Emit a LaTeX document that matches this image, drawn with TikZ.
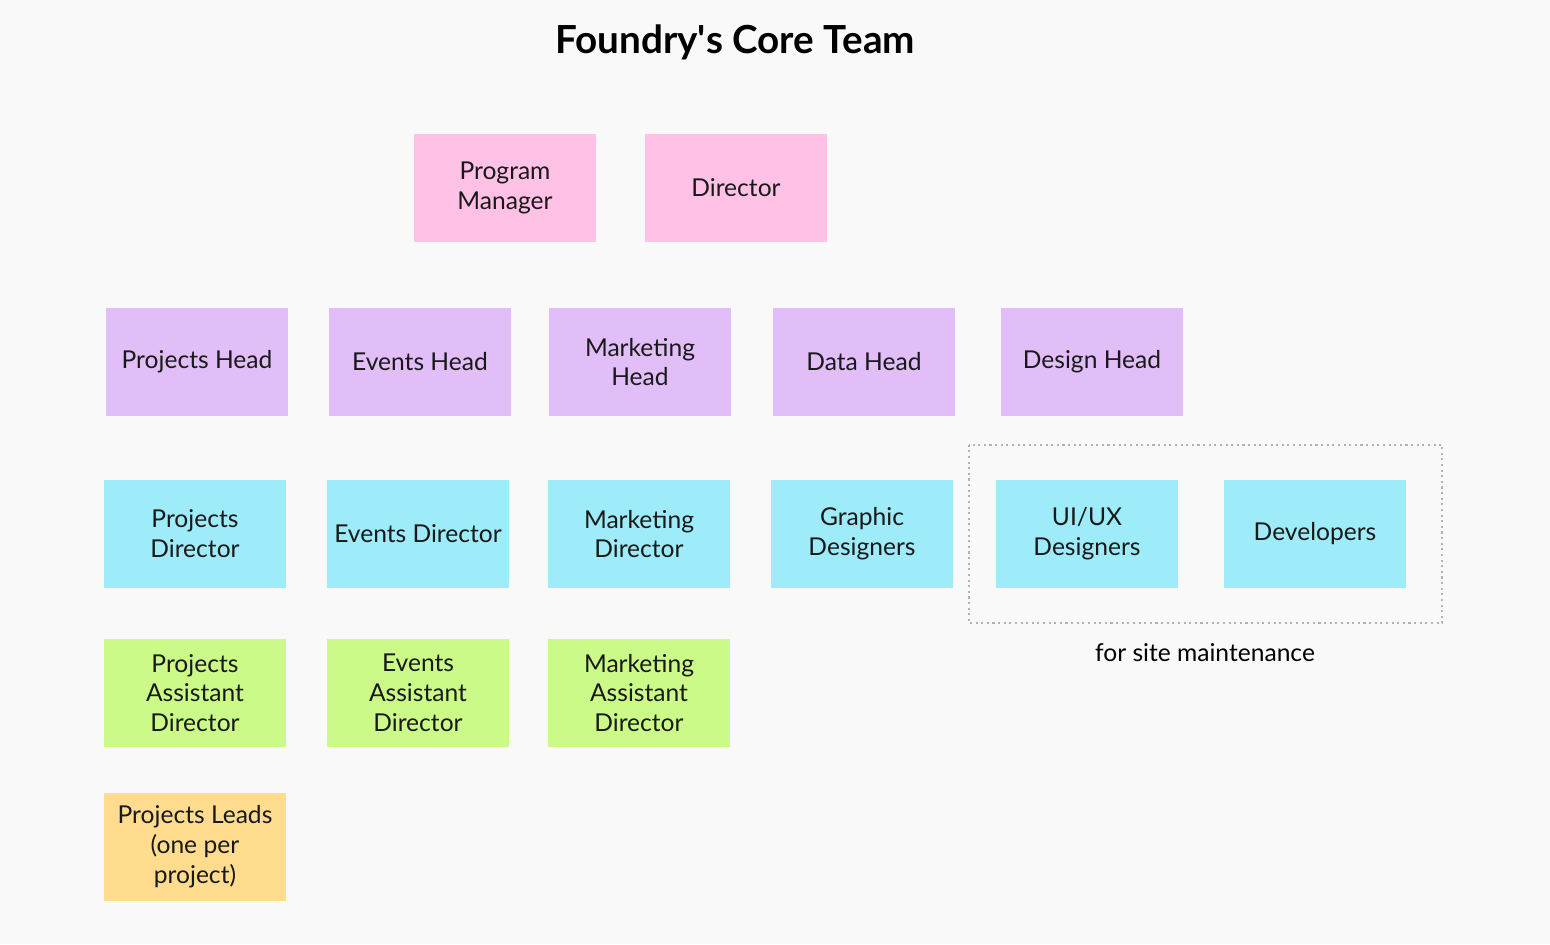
\documentclass[tikz,border=0pt]{standalone}
\usepackage{fontspec}
\setmainfont{Lato}
\usepackage{xcolor}
\usetikzlibrary{calc}

\definecolor{bg}{HTML}{F9F9F9}
\definecolor{pinkbox}{HTML}{FFC1E5}
\definecolor{lilacbox}{HTML}{E2BEF8}
\definecolor{cyanbox}{HTML}{9EEBFA}
\definecolor{limebox}{HTML}{CBFA89}
\definecolor{sandbox}{HTML}{FFDC8E}

\begin{document}
\begin{tikzpicture}[x=0.02cm, y=-0.02cm,
  font=\fontsize{14pt}{17pt}\selectfont,
  card/.style={minimum width=3.64cm, minimum height=2.16cm, inner sep=0pt,
    align=center, text=black!90},
  lead/.style={card, fill=pinkbox},
  head/.style={card, fill=lilacbox},
  crew/.style={card, fill=cyanbox},
  asst/.style={card, fill=limebox},
  proj/.style={card, fill=sandbox},
  dotbox/.style={draw=black!30, line width=1.2pt, dotted}]
  \fill[bg] (0,0) rectangle (1550,944);
  \useasboundingbox (0,0) rectangle (1550,944);

  \node[font=\fontsize{22pt}{26pt}\selectfont\bfseries] (title) at (735,42) {Foundry\textquotesingle s Core Team};

  % top
  \node[lead] (pm) at (505,188) {Program\\Manager};
  \node[lead] (dir) at (736,188) {Director};

  % heads
  \node[head] (ph) at (197,362) {Projects Head};
  \node[head] (eh) at (420,362) {Events Head};
  \node[head] (mh) at (640,362) {Marketing\\Head};
  \node[head] (dh) at (864,362) {Data Head};
  \node[head] (gh) at (1092,362) {Design Head};

  % directors and designers
  \node[crew] (pd) at (195,534) {Projects\\Director};
  \node[crew] (ed) at (418,534) {Events Director};
  \node[crew] (md) at (639,534) {Marketing\\Director};
  \node[crew] (gd) at (862,534) {Graphic\\Designers};
  \node[crew] (ux) at (1087,534) {UI/UX\\Designers};
  \node[crew] (dev) at (1315,534) {Developers};

  % site maintenance group
  \draw[dotbox] ($(ux.north west)+(-27,-35)$) rectangle ($(dev.south east)+(36,35)$);
  \node (site) at (1205,653) {for site maintenance};

  % assistants
  \node[asst] (pa) at (195,693) {Projects\\Assistant\\Director};
  \node[asst] (ea) at (418,693) {Events\\Assistant\\Director};
  \node[asst] (ma) at (639,693) {Marketing\\Assistant\\Director};

  \node[proj] (pl) at (195,847) {Projects Leads\\(one per\\project)};
\end{tikzpicture}
\end{document}
